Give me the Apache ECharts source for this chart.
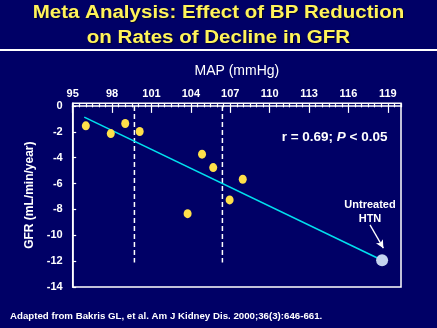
<!DOCTYPE html>
<html>
<head>
<meta charset="utf-8">
<script src="https://cdn.jsdelivr.net/npm/echarts@6/dist/echarts.min.js"></script>
<style>
  html, body { margin: 0; padding: 0; background: #000066; }
  #chart { width: 437px; height: 328px; }
</style>
</head>
<body>
<div id="chart"></div>
<script>
// Mean arterial pressure (mmHg) vs. rate of GFR decline (mL/min/year)
const trialMAP = [96.0, 97.9, 99.0, 100.1, 104.85, 105.7, 107.95, 103.75, 106.95];
const trialGFR = [-1.54, -2.14, -1.36, -1.98, -3.73, -4.77, -5.67, -8.33, -7.27];
const untreatedMAP = [118.56];
const untreatedGFR = [-11.93];
// Regression line end points
const fitMAP = [95.88, 118.56];
const fitGFR = [-0.87, -11.93];
// Blood pressure targets (as MAP) and their labels
const targetMAP = [99.7, 106.4];
const targetLabels = ['130/85', '140/90'];
const targetTop = 0;
const targetBottom = -12.1;
// Axis ranges
const xMin = 95, xMax = 120, xStep = 3, xMinorStep = 0.5;
const yMin = -14, yMax = 0.2, yStep = 2;

const titleLines = ['Meta Analysis: Effect of BP Reduction', 'on Rates of Decline in GFR'];

const WHITE = '#ffffff';
const YELLOW = '#fff35a';
const FONT = 'Liberation Sans, Arial, sans-serif';

const pairs = (xs, ys) => xs.map((x, i) => [x, ys[i]]);

const targetSeries = targetMAP.map((m, i) => ({
  type: 'line',
  xAxisIndex: 0,
  data: [
    { value: [m, targetTop] },
    { value: [m, targetBottom], label: {
        show: true, position: 'bottom', distance: 3,
        formatter: targetLabels[i], color: WHITE,
        fontFamily: FONT, fontWeight: 'bold', fontSize: 11 } }
  ],
  symbol: 'none',
  lineStyle: { color: WHITE, width: 1.5, type: [5, 3] },
  silent: true,
  z: 2
}));

// Slide heading, slightly widened like the presentation font
const titleGraphics = titleLines.map((t, i) => ({
  type: 'text', x: 218.5, y: 13.5 + i * 24.4, scaleX: 1.14, silent: true,
  style: {
    text: t, align: 'center', verticalAlign: 'middle',
    fill: YELLOW, fontFamily: FONT, fontWeight: 'bold', fontSize: 18,
    textShadowColor: 'rgba(0,0,0,0.6)', textShadowOffsetX: 1, textShadowOffsetY: 1, textShadowBlur: 1
  }
}));

const chart = echarts.init(document.getElementById('chart'));
chart.setOption({
  backgroundColor: '#000066',
  animation: false,
  grid: {
    left: 72.7, right: 36, top: 103.3, bottom: 41,
    show: true, borderColor: WHITE, borderWidth: 1.5, backgroundColor: 'transparent'
  },
  xAxis: [
    {
      type: 'value', position: 'top', min: xMin, max: xMax, interval: xStep,
      name: 'MAP (mmHg)', nameLocation: 'middle', nameGap: 25,
      nameTextStyle: { color: WHITE, fontFamily: FONT, fontSize: 14 },
      axisLine: { show: true, lineStyle: { color: WHITE, width: 1.5 } },
      axisTick: { show: true, inside: true, length: 7, lineStyle: { color: WHITE, width: 1.2 } },
      axisLabel: { color: WHITE, fontFamily: FONT, fontWeight: 'bold', fontSize: 11, margin: 4, showMaxLabel: false },
      splitLine: { show: false }
    },
    {
      type: 'value', position: 'top', min: xMin, max: xMax, interval: xMinorStep,
      axisLine: { show: false },
      axisTick: { show: true, inside: true, length: 4, lineStyle: { color: WHITE, width: 1.2 } },
      axisLabel: { show: false },
      splitLine: { show: false }
    }
  ],
  yAxis: {
    type: 'value', min: yMin, max: yMax, interval: yStep,
    name: 'GFR (mL/min/year)', nameLocation: 'middle', nameGap: 32,
    nameTextStyle: { color: WHITE, fontFamily: FONT, fontWeight: 'bold', fontSize: 12 },
    axisLine: { show: true, lineStyle: { color: WHITE, width: 1.5 } },
    axisTick: { show: true, inside: true, length: 3.5, lineStyle: { color: WHITE, width: 1.2 } },
    axisLabel: { color: WHITE, fontFamily: FONT, fontWeight: 'bold', fontSize: 11, margin: 10, showMaxLabel: false },
    splitLine: { show: false }
  },
  series: [
    ...targetSeries,
    {
      type: 'line', xAxisIndex: 0,
      data: pairs(fitMAP, fitGFR),
      symbol: 'none',
      lineStyle: { color: '#00e0ee', width: 1.6 },
      silent: true, z: 3
    },
    {
      type: 'scatter', xAxisIndex: 0,
      data: pairs(trialMAP, trialGFR),
      symbol: 'circle', symbolSize: [8, 9],
      itemStyle: { color: '#ffe04a', opacity: 1 },
      z: 4
    },
    {
      type: 'scatter', xAxisIndex: 0,
      data: pairs(untreatedMAP, untreatedGFR),
      symbol: 'circle', symbolSize: 12,
      itemStyle: { color: '#c4d4f0', opacity: 1 },
      z: 4,
      markLine: {
        silent: true,
        symbol: ['none', 'arrow'], symbolSize: [6, 8],
        lineStyle: { color: WHITE, width: 1.3, type: 'solid' },
        label: { show: false },
        data: [[{ coord: [117.64, -9.2] }, { coord: [118.66, -11.0] }]]
      }
    }
  ],
  graphic: [
    ...titleGraphics,
    { type: 'rect', shape: { x: 0, y: 49, width: 437, height: 2 }, style: { fill: WHITE }, silent: true },
    {
      type: 'text', left: 281.7, top: 130,
      style: {
        text: '{a|r = 0.69; }{i|P}{a| < 0.05}',
        rich: {
          a: { fill: WHITE, fontFamily: FONT, fontWeight: 'bold', fontSize: 13.5 },
          i: { fill: WHITE, fontFamily: FONT, fontWeight: 'bold', fontStyle: 'italic', fontSize: 13.5 }
        }
      }
    },
    {
      type: 'text', x: 370, y: 198,
      style: {
        text: 'Untreated\nHTN', align: 'center', verticalAlign: 'top',
        fill: WHITE, fontFamily: FONT, fontWeight: 'bold', fontSize: 11, lineHeight: 14
      }
    },
    {
      type: 'text', left: 10, top: 311,
      style: {
        text: 'Adapted from Bakris GL, et al. Am J Kidney Dis. 2000;36(3):646-661.',
        fill: WHITE, fontFamily: FONT, fontWeight: 'bold', fontSize: 9.7
      }
    }
  ]
});
</script>
</body>
</html>
